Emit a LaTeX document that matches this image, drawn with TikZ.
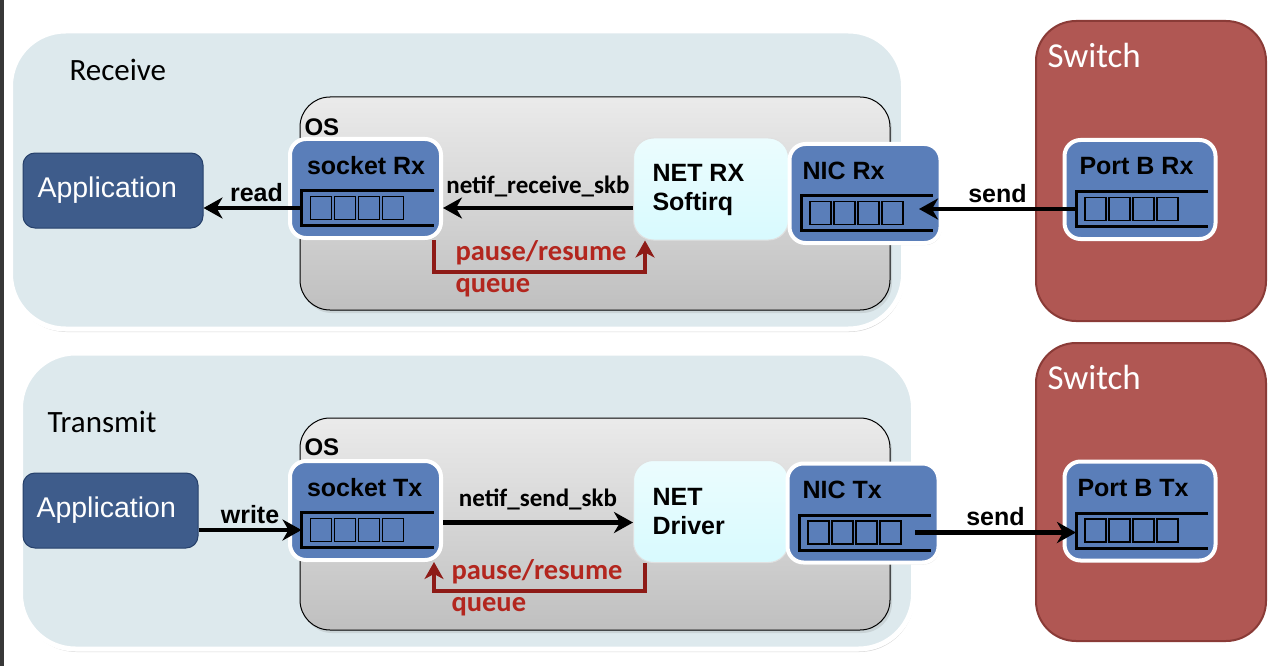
\documentclass[tikz,border=0pt]{standalone}
\usepackage{fontspec}
\setmainfont{Liberation Sans}
\newfontfamily\calibri{Carlito}
\usetikzlibrary{arrows.meta,shadows,positioning,calc}
\definecolor{panelblue}{HTML}{DDE9ED}
\definecolor{qblue}{HTML}{5A7EB9}
\definecolor{appblue}{HTML}{3E5C8B}
\definecolor{appedge}{HTML}{26406A}
\definecolor{switchred}{HTML}{B05753}
\definecolor{switchedge}{HTML}{8A3B37}
\definecolor{ctrlred}{HTML}{8E1B17}
\definecolor{labelred}{HTML}{B3261E}
\definecolor{softcyan}{HTML}{D8FAFE}

\begin{document}
\begin{tikzpicture}[x=1pt,y=-1pt]
\tikzset{
  panel/.style={draw=white, line width=5pt, fill=panelblue, rounded corners=55pt,
    drop shadow={shadow xshift=1pt, shadow yshift=-3pt, opacity=0.3}},
  osbox/.style={draw=black, line width=1pt, top color=black!8, bottom color=black!25,
    rounded corners=30pt, drop shadow={shadow xshift=2pt, shadow yshift=-3pt, opacity=0.2}},
  switchbox/.style={draw=switchedge, line width=2pt, fill=switchred, rounded corners=40pt},
  qbox/.style={draw=white, line width=4pt, fill=qblue, rounded corners=16pt,
    minimum width=151pt, minimum height=99pt,
    drop shadow={shadow xshift=1pt, shadow yshift=-2pt, opacity=0.25}},
  netbox/.style={draw=black!12, line width=1pt, top color=softcyan!50!white, bottom color=softcyan,
    rounded corners=20pt, minimum width=155pt, minimum height=102pt},
  appbox/.style={draw=appedge, line width=1pt, fill=appblue, rounded corners=12pt,
    minimum height=75pt},
  apptext/.style={anchor=west, text=white, font=\fontsize{28.5}{31}\selectfont},
  qtitle/.style={anchor=west, font=\fontsize{25}{28}\selectfont\bfseries},
  ostitle/.style={anchor=west, font=\fontsize{24}{26}\selectfont\bfseries},
  heading/.style={anchor=west, font=\calibri\fontsize{31}{33}\selectfont},
  swtitle/.style={anchor=west, text=white, font=\calibri\fontsize{35}{38}\selectfont},
  flow/.style={line width=4.5pt, -{Stealth[length=19pt,width=21pt,inset=6pt]}},
  ctrl/.style={draw=ctrlred, line width=4pt, -{Stealth[length=17pt,width=19pt,inset=5pt]}},
  arrowlbl/.style={font=\fontsize{25}{28}\selectfont\bfseries},
  calllbl/.style={font=\calibri\fontsize{25}{28}\selectfont\bfseries},
  pauselbl/.style={anchor=west, text=labelred, font=\calibri\fontsize{28.5}{30}\selectfont\bfseries},
  queue/.pic={
    \draw[line width=3pt, line join=miter] (68,2) -- (-64,2) -- (-64,37) -- (68,37);
    \foreach \i in {0,...,3}
      \draw[line width=1.6pt] (-55+24*\i,8) rectangle ++(21,23);
    \coordinate (-l) at (-64,19.5);
    \coordinate (-r) at (68,19.5);
  }
}
\useasboundingbox (0,0) rectangle (1282,666);
\fill[black!78] (0,0) rectangle (4,666);

% receive path
\node[panel, minimum width=893pt, minimum height=298pt] (rxpanel) at (457,180) {};
\node[heading] (rxhead) at (66,70) {Receive};
\node[switchbox, minimum width=230pt, minimum height=300pt] (rxswitch) at (1151,171) {};
\node[swtitle] (rxswt) at (1044,55) {Switch};
\node[osbox, minimum width=590pt, minimum height=213pt] (rxos) at (595,203.5) {};
\node[ostitle] (rxost) at (301,127) {OS};
\node[appbox, minimum width=180pt] (apprx) at (113,190.5) {};
\node[apptext] (apprxt) at (34,190.5) {Application};
\node[netbox] (softirq) at (711,189) {};
\node[qtitle, align=left] (softirqt) at (649,190) {NET RX\\[1pt]Softirq};
\node[qbox] (sockrx) at (365.5,188.5) {};
\node[qbox] (nicrx) at (865,193.5) {};
\node[qbox] (portrx) at (1140,189.5) {};
\node[qtitle] (sockrxt) at ([xshift=-62pt,yshift=23pt]sockrx.center) {socket Rx};
\node[qtitle] (nicrxt) at ([xshift=-66pt,yshift=23pt]nicrx.center) {NIC Rx};
\node[qtitle] (portrxt) at ([xshift=-64pt,yshift=23pt]portrx.center) {Port B Rx};
\pic (sockrxq) at (sockrx.center) {queue};
\pic (nicrxq) at (nicrx.center) {queue};
\pic (portrxq) at (portrx.center) {queue};

\draw[flow] (sockrxq-l) -- (sockrxq-l -| apprx.east) node[midway, above=1pt, xshift=4pt, arrowlbl] (readlbl) {read};
\draw[flow] (sockrxq-r -| softirq.west) -- (sockrxq-r -| sockrx.east) node[midway, above=5pt, calllbl] (rcvlbl) {netif\_receive\_skb};
\draw[flow] (portrxq-l) -- ([xshift=-14pt]portrxq-l -| nicrxq-r) node[midway, above=1pt, arrowlbl] (sendrxlbl) {send};
\draw[ctrl] ([xshift=-9pt]sockrx.south east) -- ++(0,32) -| ([xshift=-66pt]softirq.south);
\node[pauselbl] (rxpause) at (452,253) {pause/resume};
\node[pauselbl] (rxqueue) at (452,288) {queue};

% transmit path
\node[panel, minimum width=893pt, minimum height=296pt] (txpanel) at (467,501) {};
\node[heading] (txhead) at (44,422) {Transmit};
\node[switchbox, minimum width=230pt, minimum height=298pt] (txswitch) at (1151,492) {};
\node[swtitle] (txswt) at (1044,377) {Switch};
\node[osbox, minimum width=590pt, minimum height=212pt] (txos) at (595,524) {};
\node[ostitle] (txost) at (301,447) {OS};
\node[appbox, minimum width=175pt] (apptx) at (110.5,510.5) {};
\node[apptext] (apptxt) at (33,510.5) {Application};
\node[netbox] (netdrv) at (711,511.5) {};
\node[qtitle, align=left] (netdrvt) at (649,512) {NET\\[1pt]Driver};
\node[qbox] (socktx) at (365.5,510.5) {};
\node[qbox] (nictx) at (863,513) {};
\node[qbox] (porttx) at (1140,511) {};
\node[qtitle] (socktxt) at ([xshift=-62pt,yshift=23pt]socktx.center) {socket Tx};
\node[qtitle] (nictxt) at ([xshift=-64pt,yshift=23pt]nictx.center) {NIC Tx};
\node[qtitle] (porttxt) at ([xshift=-66pt,yshift=23pt]porttx.center) {Port B Tx};
\pic (socktxq) at (socktx.center) {queue};
\pic (nictxq) at (nictx.center) {queue};
\pic (porttxq) at (porttx.center) {queue};

\draw[flow] (socktxq-l -| apptx.east) -- (socktxq-l) node[midway, above=1pt, arrowlbl] (writelbl) {write};
\draw[flow] ([yshift=-12pt]socktx.east) -- ([yshift=-12pt]socktx.east -| netdrv.west) node[midway, above=7pt, calllbl] (sendlbl) {netif\_send\_skb};
\draw[flow] ([xshift=-16pt]nictxq-r) -- (nictxq-r -| porttxq-l) node[midway, above=1pt, arrowlbl] (sendtxlbl) {send};
\draw[ctrl] ([xshift=-66pt]netdrv.south) -- ++(0,28) -| ([xshift=-9pt]socktx.south east);
\node[pauselbl] (txpause) at (448,572) {pause/resume};
\node[pauselbl] (txqueue) at (448,607) {queue};
\end{tikzpicture}
\end{document}
